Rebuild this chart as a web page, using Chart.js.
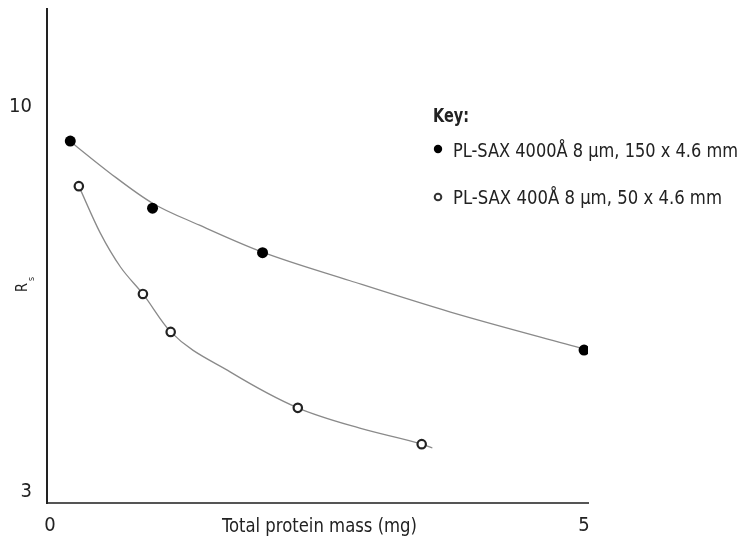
<!DOCTYPE html>
<html><head><meta charset="utf-8">
<script src="https://cdn.jsdelivr.net/npm/chart.js@4.4.0/dist/chart.umd.min.js"></script>
<style>html,body{margin:0;padding:0;background:#fff}#wrap{width:744px;height:537px}</style>
</head><body><div id="wrap"><canvas id="c" width="744" height="537"></canvas></div>
<script>
const seriesNames = ['PL-SAX 4000Å 8 µm, 150 x 4.6 mm', 'PL-SAX 400Å 8 µm, 50 x 4.6 mm'];
// measured points
const massA = [0.19, 0.96, 1.99, 5.0];
const rsA   = [9.38, 8.16, 7.35, 5.58];
const massB = [0.27, 0.87, 1.13, 2.32, 3.48];
const rsB   = [8.56, 6.60, 5.91, 4.53, 3.87];
// fitted curves
const fitMassA = [0.21, 0.56, 0.96, 1.40, 1.99, 2.81, 3.75, 5.0];
const fitRsA   = [9.34, 8.80, 8.25, 7.85, 7.36, 6.84, 6.27, 5.60];
const fitMassB = [0.27, 0.47, 0.66, 0.87, 1.13, 1.69, 2.32, 2.90, 3.48, 3.58];
const fitRsB   = [8.56, 7.71, 7.09, 6.60, 5.91, 5.18, 4.53, 4.16, 3.87, 3.80];
const xTicks = [0, 5];
const yTicks = [3, 10];
const xTitle = 'Total protein mass (mg)';
const keyTitle = 'Key:';

function pickFont() {
  const cv = document.createElement('canvas').getContext('2d');
  const probe = 'abcdefghijklmnopqrstuvwxyz0123456789';
  cv.font = '20px monospace';
  const base = cv.measureText(probe).width;
  const cands = ['Liberation Sans Narrow', 'DejaVu Sans Condensed', 'Roboto Condensed', 'Liberation Sans'];
  for (const c of cands) {
    cv.font = '20px "' + c + '", monospace';
    if (Math.abs(cv.measureText(probe).width - base) > 0.5) return '"' + c + '", sans-serif';
  }
  return 'sans-serif';
}
const FONT = pickFont();
const toPts = (xs, ys) => xs.map((x, i) => ({x, y: ys[i]}));

function fitText(ctx, text, x, y, w) {
  const m = ctx.measureText(text).width;
  ctx.save();
  ctx.translate(x, y);
  ctx.scale(w / m, 1);
  ctx.fillText(text, 0, 0);
  ctx.restore();
}

const overlay = {
  id: 'overlay',
  afterDraw(chart) {
    const ctx = chart.ctx;
    ctx.save();
    ctx.fillStyle = '#222';
    ctx.textBaseline = 'alphabetic';
    ctx.textAlign = 'left';
    // x title
    ctx.font = '19px ' + FONT;
    fitText(ctx, xTitle, 222, 532, 195);
    // y title R_s rotated
    ctx.save();
    ctx.translate(27, 292);
    ctx.rotate(-Math.PI / 2);
    ctx.font = '16px ' + FONT;
    fitText(ctx, 'R', 0, 0, 9);
    ctx.font = '9px ' + FONT;
    fitText(ctx, 's', 11, 7, 4);
    ctx.restore();
    // key
    ctx.font = 'bold 19px ' + FONT;
    fitText(ctx, keyTitle, 433, 122, 36);
    ctx.font = '19px ' + FONT;
    fitText(ctx, seriesNames[0], 453, 157, 285);
    fitText(ctx, seriesNames[1], 453, 204, 269);
    ctx.beginPath(); ctx.arc(438, 149, 4.2, 0, Math.PI * 2); ctx.fillStyle = '#000'; ctx.fill();
    ctx.beginPath(); ctx.arc(438, 197, 3.3, 0, Math.PI * 2); ctx.fillStyle = '#fff'; ctx.fill();
    ctx.lineWidth = 2; ctx.strokeStyle = '#333'; ctx.stroke();
    ctx.restore();
  }
};

const noPad = s => { s.paddingTop = 0; s.paddingBottom = 0; s.paddingLeft = 0; s.paddingRight = 0; };

new Chart(document.getElementById('c'), {
  type: 'scatter',
  data: {
    datasets: [
      {label: seriesNames[0] + ' fit', data: toPts(fitMassA, fitRsA), showLine: true, cubicInterpolationMode: 'monotone',
       borderColor: '#8a8a8a', borderWidth: 1.3, pointRadius: 0, order: 3},
      {label: seriesNames[1] + ' fit', data: toPts(fitMassB, fitRsB), showLine: true, cubicInterpolationMode: 'monotone',
       borderColor: '#8a8a8a', borderWidth: 1.3, pointRadius: 0, order: 4},
      {label: seriesNames[0], data: toPts(massA, rsA), showLine: false, pointRadius: 5.5,
       pointBackgroundColor: '#000', pointBorderColor: '#000', pointBorderWidth: 0, order: 1},
      {label: seriesNames[1], data: toPts(massB, rsB), showLine: false, pointRadius: 4.2,
       pointBackgroundColor: '#fff', pointBorderColor: '#222', pointBorderWidth: 2.2, order: 2}
    ]
  },
  options: {
    responsive: false, animation: false, devicePixelRatio: 1,
    layout: {padding: {top: 9, right: 156, left: 0, bottom: 0}},
    plugins: {legend: {display: false}, tooltip: {enabled: false}},
    scales: {
      x: {
        type: 'linear', min: -0.028, max: 5.037,
        afterFit: s => { s.height = 34; noPad(s); },
        afterBuildTicks: s => { s.ticks = xTicks.map(v => ({value: v})); },
        grid: {display: false, drawTicks: false},
        border: {display: true, color: '#555', width: 2},
        ticks: {font: {family: FONT, size: 20}, color: '#222', padding: 11, autoSkip: false, maxRotation: 0}
      },
      y: {
        type: 'linear', min: 2.8, max: 11.78,
        afterFit: s => { s.width = 47; noPad(s); },
        afterBuildTicks: s => { s.ticks = yTicks.map(v => ({value: v})); },
        grid: {display: false, drawTicks: false},
        border: {display: true, color: '#222', width: 2},
        ticks: {font: {family: FONT, size: 20}, color: '#222', padding: 15, autoSkip: false}
      }
    }
  },
  plugins: [overlay]
});
</script></body></html>
